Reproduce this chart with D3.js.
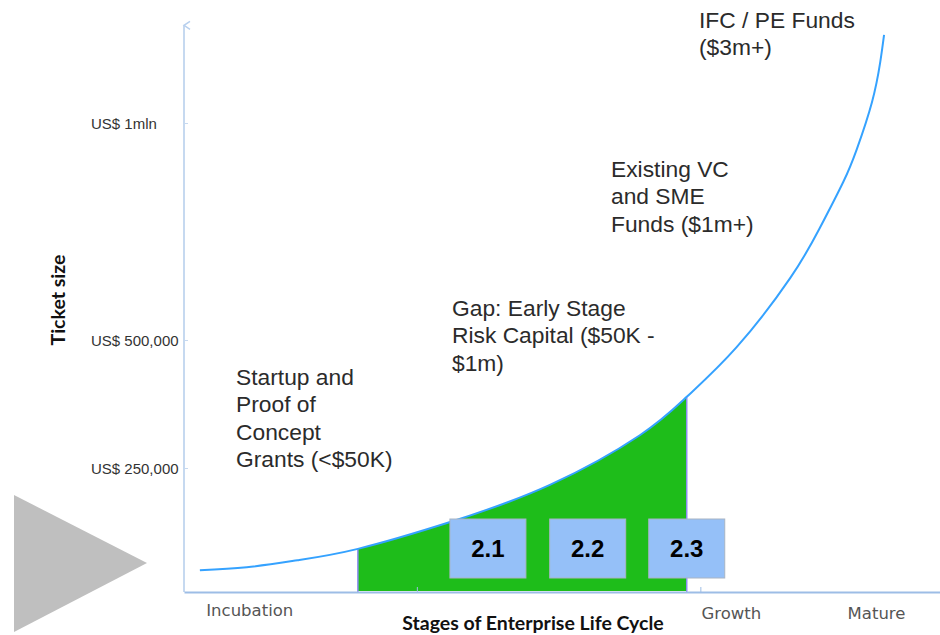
<!DOCTYPE html>
<html>
<head>
<meta charset="utf-8">
<script src="https://cdn.jsdelivr.net/npm/d3@7"></script>
<style>
  html, body { margin: 0; padding: 0; background: #fff; overflow: hidden; }
  svg { display: block; }
</style>
</head>
<body>
<div id="chart"></div>
<script>
// Financing gap along the enterprise life cycle
const curveStage = [0.21, 0.83, 1.50, 2.30, 3.52, 4.84, 6.03, 6.65, 7.31, 8.02, 8.41, 8.72, 8.90, 9.10, 9.21, 9.26];
const curveTicket = [44000, 50000, 64000, 87000, 141000, 216000, 314000, 389000, 486000, 643000, 758000, 864000, 940000, 1048000, 1141000, 1203000];

const gapStages = [2.30, 6.65];
const boxLabels = ["2.1", "2.2", "2.3"];
const boxStages = [4.02, 5.34, 6.65];

const stageLabels = ["Incubation", "Growth", "Mature"];
const stageLabelPos = [0.87, 7.24, 9.16];
const stageTicks = [3.08, 6.83];

const yTickValues = [250000, 500000, 1000000];
const yTickLabels = ["US$ 250,000", "US$ 500,000", "US$ 1mln"];
const yAxisTop = 1225000;

const notes = [
  ["Startup and", "Proof of", "Concept", "Grants (<$50K)"],
  ["Gap: Early Stage", "Risk Capital ($50K -", "$1m)"],
  ["Existing VC", "and SME", "Funds ($1m+)"],
  ["IFC / PE Funds", "($3m+)"]
];

const width = 940, height = 635;
const noteAt = [[236, 385], [452, 316], [611, 177], [699, 28]];

const svg = d3.select("#chart")
  .append("svg")
  .attr("width", width)
  .attr("height", height);

const x = d3.scaleLinear().domain([0, 10]).range([184, 940]);
// piecewise scale: the axis of the original is not evenly spaced
const y = d3.scaleLinear()
  .domain([0, 250000, 500000, 1000000])
  .range([592, 468, 340, 123]);

const pts = curveStage.map((s, i) => ({ s: s, v: curveTicket[i] }));

// grey arrow on the left
svg.append("path")
  .attr("d", "M14,495 L147,563 L14,632 Z")
  .attr("fill", "#bfbfbf");

const defs = svg.append("defs");

// green gap area: the full area under the curve, clipped to the gap stages
defs.append("clipPath")
  .attr("id", "gap-clip")
  .append("rect")
  .attr("x", x(gapStages[0]))
  .attr("y", 0)
  .attr("width", x(gapStages[1]) - x(gapStages[0]))
  .attr("height", height);

const area = d3.area()
  .x(d => x(d.s))
  .y0(y(0) - 1)
  .y1(d => y(d.v))
  .curve(d3.curveNatural);

svg.append("path")
  .datum(pts)
  .attr("d", area)
  .attr("clip-path", "url(#gap-clip)")
  .attr("fill", "#1ebd1a");

gapStages.forEach(s => {
  const v = pts.find(d => d.s === s).v;
  svg.append("line")
    .attr("x1", x(s)).attr("x2", x(s))
    .attr("y1", y(v)).attr("y2", y(0))
    .attr("stroke", "#8c8cf0")
    .attr("stroke-width", 1.5);
});

// axes
const yAxis = d3.axisLeft(y)
  .tickValues(yTickValues)
  .tickFormat((d, i) => yTickLabels[i])
  .tickSize(-4);

const gy = svg.append("g")
  .attr("transform", `translate(${x(0)},0)`)
  .call(yAxis);
gy.select(".domain").remove();
gy.selectAll(".tick line").attr("stroke", "#c6d9f0");
gy.selectAll(".tick text")
  .attr("x", 91 - x(0))
  .attr("text-anchor", "start")
  .attr("dy", "0.35em")
  .style("font-family", "'Liberation Sans', Arial, sans-serif")
  .style("font-size", "15px")
  .attr("fill", "#333");

defs.append("marker")
  .attr("id", "arrow")
  .attr("viewBox", "0 0 10 10")
  .attr("refX", 5).attr("refY", 2)
  .attr("markerWidth", 10).attr("markerHeight", 10)
  .attr("markerUnits", "userSpaceOnUse")
  .attr("orient", "auto-start-reverse")
  .append("path")
  .attr("d", "M1,8 L5,2 L9,8")
  .attr("fill", "none")
  .attr("stroke", "#b8d0ee")
  .attr("stroke-width", 1.5);

svg.append("line")
  .attr("x1", x(0)).attr("x2", x(0))
  .attr("y1", y(0)).attr("y2", y(yAxisTop))
  .attr("stroke", "#c6d9f0")
  .attr("stroke-width", 2)
  .attr("marker-end", "url(#arrow)");

const xAxis = d3.axisBottom(x)
  .tickValues(stageTicks)
  .tickFormat("")
  .tickSize(-5)
  .tickSizeOuter(0);

const gx = svg.append("g")
  .attr("transform", `translate(0,${y(0)})`)
  .call(xAxis);
gx.select(".domain").attr("stroke", "#9dbde6").attr("stroke-width", 2);
gx.selectAll(".tick line").attr("stroke", "#9dbde6");

svg.selectAll(".stage")
  .data(stageLabels)
  .enter()
  .append("text")
  .attr("class", "stage")
  .attr("x", (d, i) => x(stageLabelPos[i]))
  .attr("y", (d, i) => i === 0 ? 616 : 619)
  .attr("text-anchor", "middle")
  .style("font-family", "'DejaVu Sans', sans-serif")
  .style("font-size", "16.5px")
  .attr("fill", "#555")
  .text(d => d);

svg.append("text")
  .attr("x", 533)
  .attr("y", 630)
  .attr("text-anchor", "middle")
  .style("font-family", "Lato, sans-serif")
  .style("font-weight", "bold")
  .style("font-size", "19.5px")
  .attr("fill", "#111")
  .text("Stages of Enterprise Life Cycle");

svg.append("text")
  .attr("transform", "translate(65,300) rotate(-90)")
  .attr("text-anchor", "middle")
  .style("font-family", "Lato, sans-serif")
  .style("font-weight", "bold")
  .style("font-size", "19.5px")
  .attr("fill", "#111")
  .text("Ticket size");

// the curve
const line = d3.line()
  .x(d => x(d.s))
  .y(d => y(d.v))
  .curve(d3.curveNatural);

svg.append("path")
  .datum(pts)
  .attr("d", line)
  .attr("fill", "none")
  .attr("stroke", "#35a2ff")
  .attr("stroke-width", 2);

// sub-stage boxes
const boxes = svg.selectAll(".box")
  .data(boxLabels)
  .enter()
  .append("g")
  .attr("class", "box")
  .attr("transform", (d, i) => `translate(${x(boxStages[i])},548.5)`);

boxes.append("rect")
  .attr("x", -38).attr("y", -29.5)
  .attr("width", 76).attr("height", 59)
  .attr("fill", "#95c0f8")
  .attr("stroke", "#a8b4c4")
  .attr("stroke-width", 1);

boxes.append("text")
  .attr("text-anchor", "middle")
  .attr("dy", "0.36em")
  .style("font-family", "'Liberation Sans', Arial, sans-serif")
  .style("font-weight", "bold")
  .style("font-size", "24px")
  .attr("fill", "#000")
  .text(d => d);

// annotations
notes.forEach((lines, i) => {
  const t = svg.append("text")
    .attr("x", noteAt[i][0])
    .attr("y", noteAt[i][1])
    .style("font-family", "'Liberation Sans', Arial, sans-serif")
    .style("font-size", "22.8px")
    .attr("fill", "#2b2b2b");
  lines.forEach((l, j) => {
    t.append("tspan")
      .attr("x", noteAt[i][0])
      .attr("dy", j === 0 ? 0 : 27.3)
      .text(l);
  });
});
</script>
</body>
</html>
